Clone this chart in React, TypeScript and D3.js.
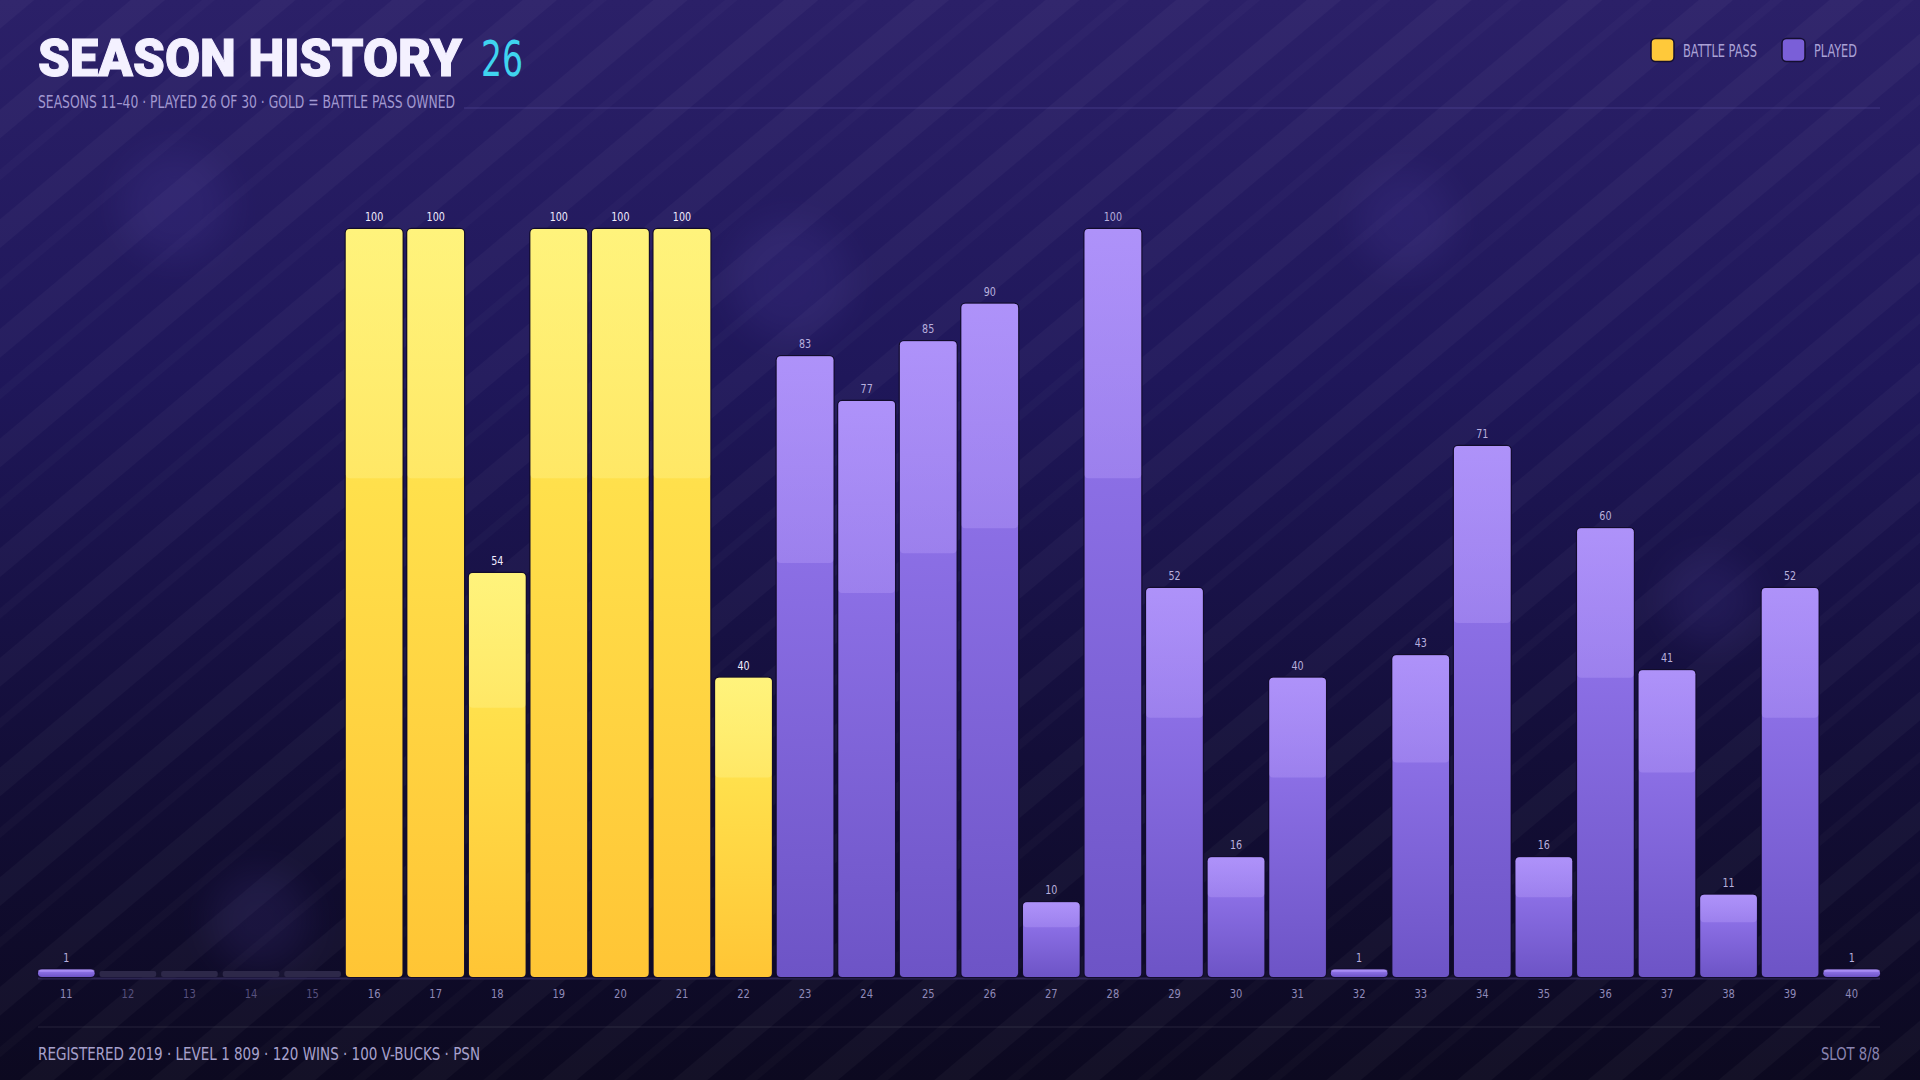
import * as d3 from 'd3';

const seasons = [11, 12, 13, 14, 15, 16, 17, 18, 19, 20, 21, 22, 23, 24, 25, 26, 27, 28, 29, 30, 31, 32, 33, 34, 35, 36, 37, 38, 39, 40];
const levels = [1, 0, 0, 0, 0, 100, 100, 54, 100, 100, 100, 40, 83, 77, 85, 90, 10, 100, 52, 16, 40, 1, 43, 71, 16, 60, 41, 11, 52, 1];
const battlePass = [false, false, false, false, false, true, true, true, true, true, true, true, false, false, false, false, false, false, false, false, false, false, false, false, false, false, false, false, false, false];
const legendItems = [
  { label: 'BATTLE PASS', color: '#ffc93a' },
  { label: 'PLAYED', color: '#7a5fd8' },
];
const footerLeft = 'REGISTERED 2019  ·  LEVEL 1 809  ·  120 WINS  ·  100 V-BUCKS  ·  PSN';
const footerRight = 'SLOT 8/8';
const subtitle = 'SEASONS 11–40  ·  PLAYED 26 OF 30  ·  GOLD = BATTLE PASS OWNED';

const W = 1920;
const H = 1080;
const COND = "'Liberation Sans Narrow', 'DejaVu Sans Condensed', 'Roboto Condensed', sans-serif";

const bokeh = [
  { x: 175, y: 205, r: 55 },
  { x: 790, y: 280, r: 60 },
  { x: 1405, y: 220, r: 50 },
  { x: 1710, y: 600, r: 45 },
  { x: 260, y: 920, r: 50 },
];

// squeeze a centred label horizontally around its anchor
const squeeze = (cx: number, k = 0.85) => `translate(${cx},0) scale(${k},1) translate(${-cx},0)`;

export default function App() {
  const x = d3.scaleBand<number>().domain(seasons).range([38, 1880]).paddingInner(0.08).paddingOuter(0);
  const y = d3.scaleLinear().domain([0, 100]).range([977, 229]);
  const bw = x.bandwidth();

  const legendX = [1651, 1782];
  const legendW = [74, 43];

  return (
    <svg width={W} height={H} style={{ position: 'absolute', left: 0, top: 0 }}>
      <defs>
        <linearGradient id="bg" x1="0" y1="0" x2="0" y2="1">
          <stop offset="0%" stopColor="#2b2068" />
          <stop offset="35%" stopColor="#1f175a" />
          <stop offset="70%" stopColor="#130e38" />
          <stop offset="100%" stopColor="#0c0920" />
        </linearGradient>
        <pattern id="stripes" width="84" height="84" patternUnits="userSpaceOnUse" patternTransform="rotate(50)">
          <rect x="0" y="0" width="22" height="84" fill="#ffffff" opacity="0.03" />
          <rect x="46" y="0" width="8" height="84" fill="#ffffff" opacity="0.018" />
        </pattern>
        <filter id="blur" x="-50%" y="-50%" width="200%" height="200%">
          <feGaussianBlur stdDeviation="18" />
        </filter>
        <linearGradient id="gold" x1="0" y1="0" x2="0" y2="1">
          <stop offset="0%" stopColor="#ffee58" />
          <stop offset="100%" stopColor="#ffc535" />
        </linearGradient>
        <linearGradient id="purple" x1="0" y1="0" x2="0" y2="1">
          <stop offset="0%" stopColor="#9a7cf4" />
          <stop offset="100%" stopColor="#6d54c6" />
        </linearGradient>
        <linearGradient id="shineGold" x1="0" y1="0" x2="0" y2="1">
          <stop offset="0%" stopColor="#fff8a0" stopOpacity="0.5" />
          <stop offset="100%" stopColor="#fff8a0" stopOpacity="0.3" />
        </linearGradient>
        <linearGradient id="shinePurple" x1="0" y1="0" x2="0" y2="1">
          <stop offset="0%" stopColor="#c2a8ff" stopOpacity="0.5" />
          <stop offset="100%" stopColor="#c2a8ff" stopOpacity="0.3" />
        </linearGradient>
      </defs>

      <rect width={W} height={H} fill="url(#bg)" />
      <rect width={W} height={H} fill="url(#stripes)" />
      {bokeh.map((b, i) => (
        <circle key={i} cx={b.x} cy={b.y} r={b.r} fill="#6a58c8" opacity={0.12} filter="url(#blur)" />
      ))}

      {/* header */}
      <text x={38} y={76} fontFamily="Roboto, 'DejaVu Sans', sans-serif" fontWeight={900} fontSize={51}
        fill="#f4f1ff" stroke="#f4f1ff" strokeWidth={1} textLength={424} lengthAdjust="spacingAndGlyphs">SEASON HISTORY</text>
      <text x={481} y={76} fontFamily={COND} fontSize={50} fill="#3fd4ef" textLength={42} lengthAdjust="spacingAndGlyphs">26</text>
      <text x={38} y={108} fontFamily={COND} fontSize={17} fill="#a198d0" textLength={417} lengthAdjust="spacingAndGlyphs">{subtitle}</text>
      <line x1={464} x2={1880} y1={108} y2={108} stroke="#5a4ca0" strokeOpacity={0.55} strokeWidth={1} />

      {/* legend */}
      {legendItems.map((l, i) => (
        <g key={l.label}>
          <rect x={legendX[i]} y={38.5} width={23} height={23} rx={4.5} fill={l.color} stroke="#140e30" strokeWidth={1.5} />
          <text x={legendX[i] + 32} y={57} fontFamily={COND} fontSize={18} fill="#aaa2d6"
            textLength={legendW[i]} lengthAdjust="spacingAndGlyphs">{l.label}</text>
        </g>
      ))}

      {/* baseline */}
      <line x1={38} x2={1880} y1={978.5} y2={978.5} stroke="#2c2552" strokeWidth={2} />

      {/* bars */}
      {seasons.map((s, i) => {
        const v = levels[i];
        const bx = x(s)!;
        if (v === 0) {
          return <rect key={s} x={bx} y={971} width={bw} height={6} rx={2} fill="#2d2849" />;
        }
        const top = y(v);
        const h = y(0) - top;
        return (
          <g key={s}>
            <rect x={bx} y={top} width={bw} height={h} rx={4} fill={battlePass[i] ? 'url(#gold)' : 'url(#purple)'}
              stroke="#120c2c" strokeWidth={2.5} paintOrder="stroke" />
            <rect x={bx} y={top} width={bw} height={h / 3} rx={4} fill={battlePass[i] ? 'url(#shineGold)' : 'url(#shinePurple)'} />
          </g>
        );
      })}

      {/* value labels */}
      {seasons.map((s, i) =>
        levels[i] > 0 ? (
          <text key={s} x={x(s)! + bw / 2} y={y(levels[i]) - 8} textAnchor="middle" fontFamily={COND} fontSize={12.5}
            fill={battlePass[i] ? '#f2eeff' : '#b8b0de'} transform={squeeze(x(s)! + bw / 2)}>{levels[i]}</text>
        ) : null
      )}

      {/* x labels */}
      {seasons.map((s, i) => (
        <text key={s} x={x(s)! + bw / 2} y={998} textAnchor="middle" fontFamily={COND} fontSize={13}
          fill={levels[i] > 0 ? '#8f89b8' : '#57517e'} transform={squeeze(x(s)! + bw / 2)}>{s}</text>
      ))}

      {/* footer */}
      <line x1={38} x2={1880} y1={1027} y2={1027} stroke="#ffffff" strokeOpacity={0.07} strokeWidth={1.5} />
      <text x={38} y={1060} fontFamily={COND} fontSize={18} fill="#a7a1cc" textLength={442} lengthAdjust="spacingAndGlyphs">{footerLeft}</text>
      <text x={1821} y={1060} fontFamily={COND} fontSize={18} fill="#8a84b0" textLength={59} lengthAdjust="spacingAndGlyphs">{footerRight}</text>
    </svg>
  );
}
